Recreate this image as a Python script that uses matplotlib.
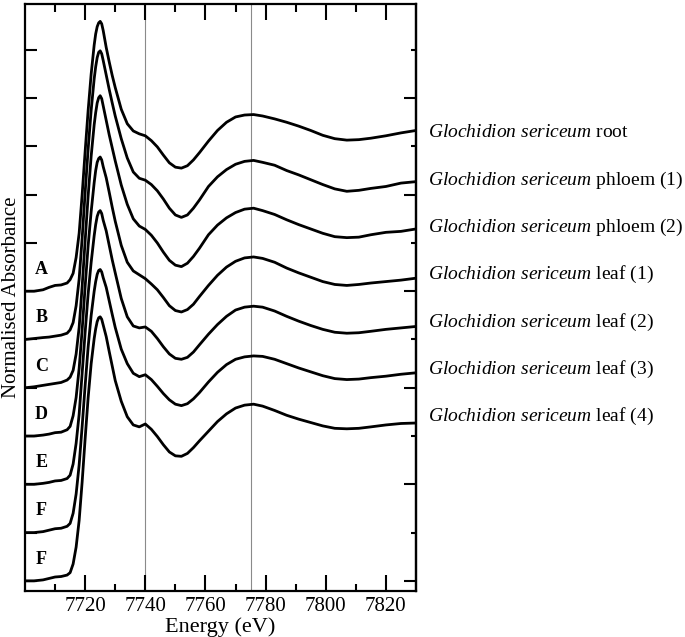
import numpy as np
import matplotlib
matplotlib.use("Agg")
import matplotlib.pyplot as plt
from matplotlib.ticker import FixedLocator, MultipleLocator

plt.rcParams['font.family'] = ['Liberation Serif', 'DejaVu Serif']
plt.rcParams['mathtext.fontset'] = 'custom'
plt.rcParams['mathtext.rm'] = 'Liberation Serif'
plt.rcParams['mathtext.it'] = 'Liberation Serif:italic'

# energy grid (eV)
energy = [7700, 7703, 7706, 7708, 7710, 7712, 7714, 7715, 7716, 7717, 7718, 7719,
          7720, 7721, 7722, 7723, 7723.5, 7724, 7724.5, 7725, 7725.5, 7726, 7727,
          7728, 7729, 7730, 7732, 7734, 7736, 7738, 7740,
          7742, 7744, 7746, 7748, 7750, 7752, 7754, 7756, 7758, 7761, 7764, 7767,
          7770, 7773, 7776, 7779, 7783, 7787, 7791, 7795, 7799, 7803, 7807, 7811,
          7815, 7820, 7825, 7830]

# normalised absorbance of each spectrum (before stacking)
root = [0.00, 0.00, 0.03, 0.08, 0.12, 0.13, 0.17, 0.24, 0.37, 0.70, 1.20, 2.00,
        2.90, 3.75, 4.50, 5.10, 5.33, 5.48, 5.56, 5.59, 5.54, 5.40, 5.05,
        4.75, 4.47, 4.22, 3.77, 3.47, 3.32, 3.26, 3.22,
        3.12, 2.99, 2.82, 2.66, 2.57, 2.55, 2.60, 2.72, 2.87, 3.11, 3.33, 3.50,
        3.61, 3.65, 3.66, 3.63, 3.57, 3.50, 3.42, 3.33, 3.23, 3.16, 3.13, 3.14,
        3.17, 3.22, 3.28, 3.33]
phloem1 = [0.00, 0.02, 0.04, 0.05, 0.07, 0.09, 0.13, 0.20, 0.35, 0.70, 1.25, 2.10,
           3.05, 3.95, 4.75, 5.40, 5.65, 5.84, 5.95, 5.98, 5.92, 5.78, 5.48,
           5.18, 4.90, 4.63, 4.16, 3.76, 3.47, 3.34, 3.30,
           3.21, 3.08, 2.91, 2.72, 2.58, 2.53, 2.58, 2.72, 2.89, 3.17, 3.37, 3.52,
           3.63, 3.69, 3.71, 3.67, 3.61, 3.50, 3.41, 3.31, 3.21, 3.12, 3.07, 3.09,
           3.13, 3.17, 3.24, 3.27]
phloem2 = [0.00, 0.02, 0.05, 0.07, 0.09, 0.11, 0.16, 0.22, 0.36, 0.70, 1.25, 2.10,
           3.05, 3.98, 4.80, 5.45, 5.70, 5.90, 6.01, 6.05, 5.99, 5.84, 5.54,
           5.24, 4.97, 4.70, 4.20, 3.80, 3.50, 3.35, 3.28,
           3.16, 3.00, 2.81, 2.64, 2.54, 2.51, 2.58, 2.72, 2.89, 3.17, 3.37, 3.52,
           3.63, 3.70, 3.72, 3.67, 3.59, 3.48, 3.38, 3.29, 3.20, 3.13, 3.11, 3.12,
           3.17, 3.22, 3.24, 3.29]
leaf1 = [0.00, 0.00, 0.02, 0.04, 0.07, 0.08, 0.13, 0.20, 0.42, 0.80, 1.40, 2.20,
         3.10, 3.95, 4.65, 5.25, 5.50, 5.67, 5.75, 5.78, 5.72, 5.58, 5.35,
         5.05, 4.74, 4.45, 3.95, 3.60, 3.42, 3.34, 3.26,
         3.15, 3.03, 2.87, 2.70, 2.60, 2.57, 2.62, 2.73, 2.89, 3.12, 3.33, 3.50,
         3.62, 3.69, 3.71, 3.68, 3.60, 3.48, 3.38, 3.29, 3.20, 3.14, 3.12, 3.14,
         3.17, 3.20, 3.23, 3.27]
leaf2 = [0.00, 0.00, 0.02, 0.04, 0.07, 0.08, 0.12, 0.19, 0.42, 0.85, 1.45, 2.30,
         3.15, 3.95, 4.60, 5.15, 5.38, 5.55, 5.64, 5.67, 5.61, 5.47, 5.25,
         4.95, 4.65, 4.38, 3.85, 3.47, 3.28, 3.24, 3.26,
         3.17, 3.02, 2.85, 2.70, 2.61, 2.59, 2.63, 2.74, 2.89, 3.11, 3.31, 3.48,
         3.61, 3.67, 3.69, 3.67, 3.59, 3.48, 3.38, 3.29, 3.21, 3.15, 3.13, 3.14,
         3.17, 3.21, 3.24, 3.27]
leaf3 = [0.00, 0.00, 0.02, 0.05, 0.08, 0.09, 0.13, 0.19, 0.40, 0.80, 1.40, 2.20,
         3.05, 3.85, 4.50, 5.00, 5.20, 5.35, 5.43, 5.45, 5.40, 5.28, 5.08,
         4.80, 4.52, 4.25, 3.80, 3.50, 3.30, 3.23, 3.27,
         3.17, 3.03, 2.88, 2.75, 2.66, 2.63, 2.67, 2.77, 2.90, 3.12, 3.32, 3.48,
         3.59, 3.64, 3.66, 3.65, 3.59, 3.50, 3.41, 3.33, 3.25, 3.19, 3.17, 3.18,
         3.21, 3.24, 3.28, 3.31]
leaf4 = [0.00, 0.00, 0.02, 0.05, 0.08, 0.09, 0.12, 0.17, 0.35, 0.70, 1.25, 2.05,
         2.95, 3.80, 4.50, 5.02, 5.22, 5.37, 5.45, 5.47, 5.42, 5.30, 5.06,
         4.75, 4.45, 4.15, 3.72, 3.40, 3.23, 3.19, 3.25,
         3.14, 2.99, 2.82, 2.67, 2.59, 2.58, 2.64, 2.76, 2.90, 3.10, 3.30, 3.46,
         3.58, 3.64, 3.66, 3.62, 3.53, 3.43, 3.35, 3.28, 3.21, 3.16, 3.15, 3.16,
         3.19, 3.23, 3.26, 3.27]

spectra = [root, phloem1, phloem2, leaf1, leaf2, leaf3, leaf4]
letters = ['A', 'B', 'C', 'D', 'E', 'F', 'F']
tissues = ['root', 'phloem (1)', 'phloem (2)', 'leaf (1)', 'leaf (2)', 'leaf (3)', 'leaf (4)']
offsets = [6, 5, 4, 3, 2, 1, 0]
reference_lines = [7740, 7775]

fig = plt.figure(figsize=(6.85, 6.37), dpi=100)
ax = fig.add_axes([25/685, 46/637, 391/685, 587/637])

for x in reference_lines:
    ax.axvline(x, color='#8a8a8a', lw=0.8, zorder=1)

for i, spec in enumerate(spectra):
    ax.plot(energy, np.array(spec) + offsets[i], color='black', lw=2.0, zorder=3,
            solid_joinstyle='round')
    ax.text(7705.5, offsets[i] + 0.45, letters[i], fontsize=13, fontweight='bold',
            ha='center', va='center')
    ax.text(7834, 9.28 - 0.98*i, r'$\mathit{Glochidion\ sericeum}$ ' + tissues[i],
            fontsize=14, ha='left', va='center', clip_on=False)

ax.set_xlim(7700, 7830)
ax.set_ylim(-0.21, 11.95)

ax.xaxis.set_major_locator(FixedLocator(np.arange(7720, 7821, 20)))
ax.xaxis.set_minor_locator(FixedLocator(np.arange(7710, 7821, 20)))
ax.tick_params(axis='x', which='both', direction='in', top=True, labelsize=15, pad=4)
ax.tick_params(axis='x', which='major', length=11.5, width=1.5)
ax.tick_params(axis='x', which='minor', length=5.4, width=1.5)

ax.yaxis.set_major_locator(MultipleLocator(1))
ax.tick_params(axis='y', which='major', direction='in', left=True, right=False,
               labelleft=False, length=8.6, width=1.5)

sec = ax.secondary_yaxis('right')
sec.yaxis.set_major_locator(MultipleLocator(2))
sec.yaxis.set_minor_locator(MultipleLocator(1))
sec.tick_params(which='both', direction='in', labelright=False, width=1.5)
sec.tick_params(which='major', length=8.6)
sec.tick_params(which='minor', length=3.6)
sec.spines['right'].set_linewidth(1.6)

for s in ax.spines.values():
    s.set_linewidth(1.6)

ax.set_xlabel('Energy (eV)', fontsize=16, labelpad=1)
ax.set_ylabel('Normalised Absorbance', fontsize=15, labelpad=3)

fig.savefig('out.png', dpi=100)
